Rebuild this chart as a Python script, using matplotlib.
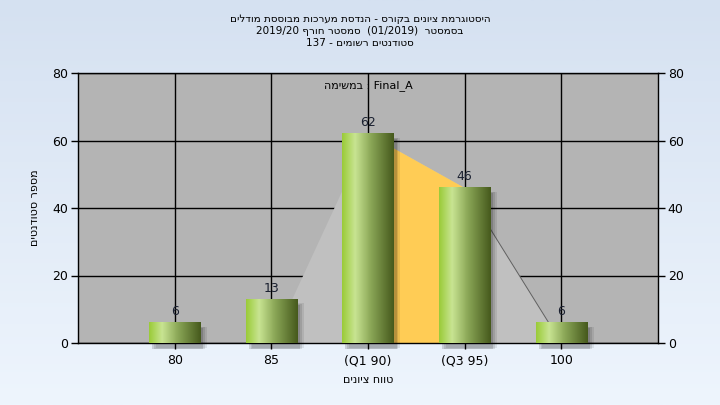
import re
import matplotlib
matplotlib.use("Agg")
import matplotlib.pyplot as plt
import numpy as np
from matplotlib.colors import LinearSegmentedColormap
from matplotlib.patches import Rectangle


def rtl(s):
    # crude visual ordering for a right-to-left line
    s = s[::-1]
    s = re.sub(r"[A-Za-z0-9/_.]+", lambda m: m.group(0)[::-1], s)
    return s.translate(str.maketrans("()", ")("))


categories = ["80", "85", "(Q1 90)", "(Q3 95)", "100"]
counts = [6, 13, 62, 46, 6]
area_vals = [0, 0, 62, 46, 0]
title_lines = ["היסטוגרמת ציונים בקורס - הנדסת מערכות מבוססת מודלים",
               "בסמסטר  (01/2019)  סמסטר חורף 2019/20",
               "סטודנטים רשומים - 137"]
task_name = "Final_A"

plt.rcParams["font.family"] = "DejaVu Sans"

fig = plt.figure(figsize=(7.2, 4.05), dpi=100)

# background gradient
bg = fig.add_axes([0, 0, 1, 1], zorder=-10)
grad = np.linspace(0, 1, 256).reshape(-1, 1)
bg_cmap = LinearSegmentedColormap.from_list("bg", ["#d5e1f1", "#eef5fd"])
bg.imshow(grad, aspect="auto", cmap=bg_cmap, extent=[0, 1, 0, 1])
bg.axis("off")

ax = fig.add_axes([78 / 720, 1 - 343 / 405, 580 / 720, 270 / 405])
ax.set_facecolor("#b4b4b4")
x = np.arange(len(categories))

# area behind the bars
ax.fill_between(x, area_vals, color="#c0c0c0", zorder=1, lw=0)
ax.fill_between(x[2:4], area_vals[2:4], color="#ffcc55", zorder=1.1, lw=0)
ax.plot(x[3:5], area_vals[3:5], color="#606060", lw=0.7, zorder=1.2)

# bars with gradient
bar_cmap = LinearSegmentedColormap.from_list(
    "bar", [(0, "#9acb38"), (0.25, "#c8e492"), (0.55, "#8ca858"), (1, "#46591c")])
w = 0.53
hgrad = np.linspace(0, 1, 128).reshape(1, -1)
for xi, c in zip(x, counts):
    for k, a in enumerate([0.08, 0.10, 0.14]):
        off = 0.03 + 0.02 * (2 - k)
        ax.add_patch(Rectangle((xi - w / 2 + off, -1.5 - 0.2 * k), w, c + 0.3,
                               color="black", alpha=a, lw=0, zorder=2, clip_on=False))
    ax.imshow(hgrad, cmap=bar_cmap, aspect="auto", zorder=3,
              extent=[xi - w / 2, xi + w / 2, 0, c])
    ax.text(xi, c + 1.3, str(c), ha="center", va="bottom", fontsize=9,
            color="#1a2030", zorder=4)

ax.set_xlim(-1, 5)
ax.set_ylim(0, 80)

ax.set_xticks(x)
ax.set_xticklabels(categories, fontsize=9)
ax.set_yticks(range(0, 81, 20))
ax.tick_params(axis="y", which="both", left=True, right=True, labelleft=True,
               labelright=True, length=5, width=1, labelsize=9, pad=2)
ax.tick_params(axis="x", length=4, width=1, pad=4)
ax.grid(True, color="black", lw=1, zorder=0.5)
ax.set_axisbelow(True)
for sp in ax.spines.values():
    sp.set_color("black")
    sp.set_linewidth(1)

ax.set_xlabel(rtl("טווח ציונים"), fontsize=8, labelpad=6)
ax.set_ylabel(rtl("מספר סטודנטים"), fontsize=8, labelpad=9)

ax.text(0.5, 0.952, rtl("במשימה") + " : " + task_name, transform=ax.transAxes,
        ha="center", va="center", fontsize=8, zorder=5)

fig.text(0.5, 1 - 31 / 405, "\n".join(rtl(t) for t in title_lines), ha="center",
         va="center", fontsize=7.5, linespacing=1.3)

fig.savefig("out.png", dpi=100)
